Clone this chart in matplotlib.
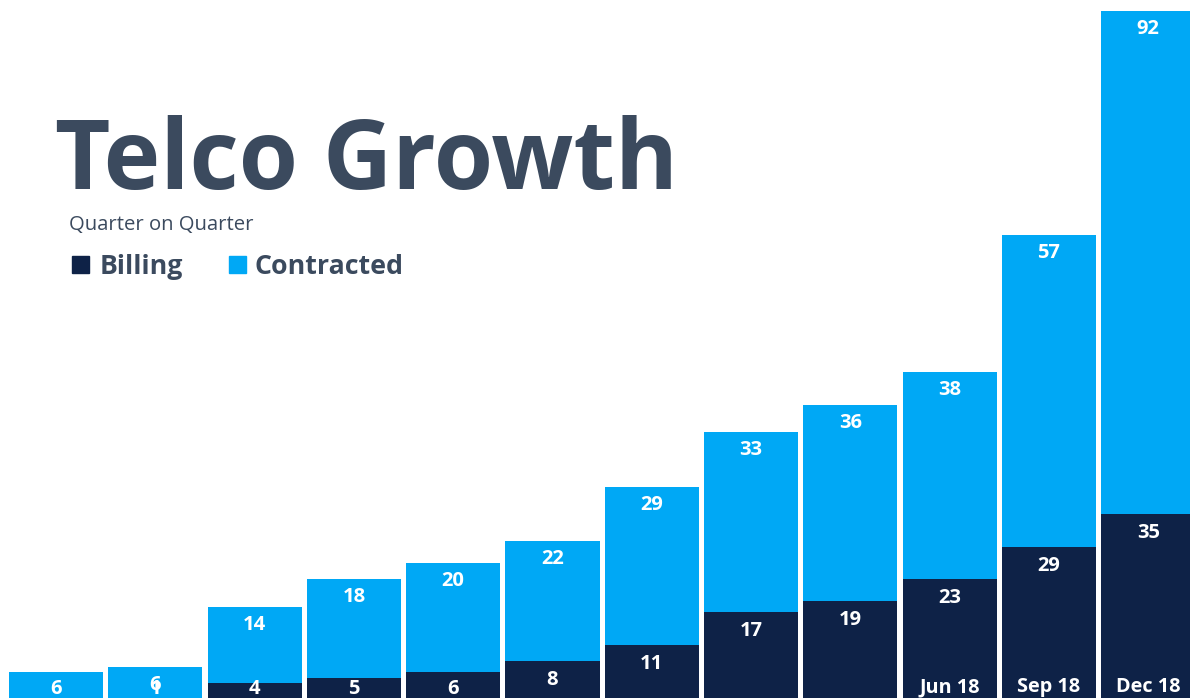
import matplotlib.pyplot as plt
import numpy as np

# Data
quarters = ['Mar 16', 'Jun 16', 'Sep 16', 'Dec 16', 'Mar 17', 'Jun 17',
            'Sep 17', 'Dec 17', 'Mar 18', 'Jun 18', 'Sep 18', 'Dec 18']
billing = [0, 1, 4, 5, 6, 8, 11, 17, 19, 23, 29, 35]
contracted = [6, 6, 14, 18, 20, 22, 29, 33, 36, 38, 57, 92]
shown_quarters = ['Jun 18', 'Sep 18', 'Dec 18']

navy = '#0e2247'
blue = '#00a8f5'
text_col = '#3b4a5e'

plt.rcParams['font.family'] = ['Open Sans', 'DejaVu Sans']

fig = plt.figure(figsize=(11.9, 6.98), dpi=100)
ax = fig.add_axes([0, 0, 1, 1])

x = np.arange(len(quarters))
billing = np.array(billing)
contracted = np.array(contracted)
ax.bar(x, billing, width=0.947, color=navy, linewidth=0)
ax.bar(x, contracted, width=0.947, bottom=billing, color=blue, linewidth=0)

ax.set_xlim(-0.564, 11.42)
ax.set_ylim(1.28, 129.1)
ax.axis('off')

# value labels: just under the top of each segment, kept inside the picture
px = 1 / 5.46  # data units per pixel
y_min = 1.28 + 9 * px
for i in range(len(quarters)):
    if billing[i] > 0:
        yb = max(billing[i] - 19 * px, y_min)
        ax.text(x[i], yb, str(billing[i]), ha='center', va='center',
                color='white', fontsize=14.5, fontweight='bold')
    top = billing[i] + contracted[i]
    yc = max(top - 18 * px, y_min)
    ax.text(x[i], yc, str(contracted[i]), ha='center', va='center',
            color='white', fontsize=14.5, fontweight='bold')

for q in shown_quarters:
    i = quarters.index(q)
    ax.text(x[i], y_min + 2 * px, q, ha='center', va='center',
            color='white', fontsize=14.3, fontweight='bold')

# title, subtitle and legend
fig.text(0.046, 0.729, 'Telco Growth', color=text_col, fontsize=69,
         fontweight='bold', ha='left', va='baseline')
fig.text(0.058, 1 - 230 / 698, 'Quarter on Quarter', color=text_col, fontsize=14.6,
         ha='left', va='baseline')
for sx, tx, label, col in [(72, 100, 'Billing', navy), (229, 255, 'Contracted', blue)]:
    fig.patches.append(plt.Rectangle((sx / 1190, 1 - 273 / 698), 17 / 1190, 17 / 698,
                                     transform=fig.transFigure, color=col))
    fig.text(tx / 1190, 1 - 274 / 698, label, color=text_col, fontsize=19.3,
             fontweight='bold', ha='left', va='baseline')

plt.savefig('out.png', dpi=100)
